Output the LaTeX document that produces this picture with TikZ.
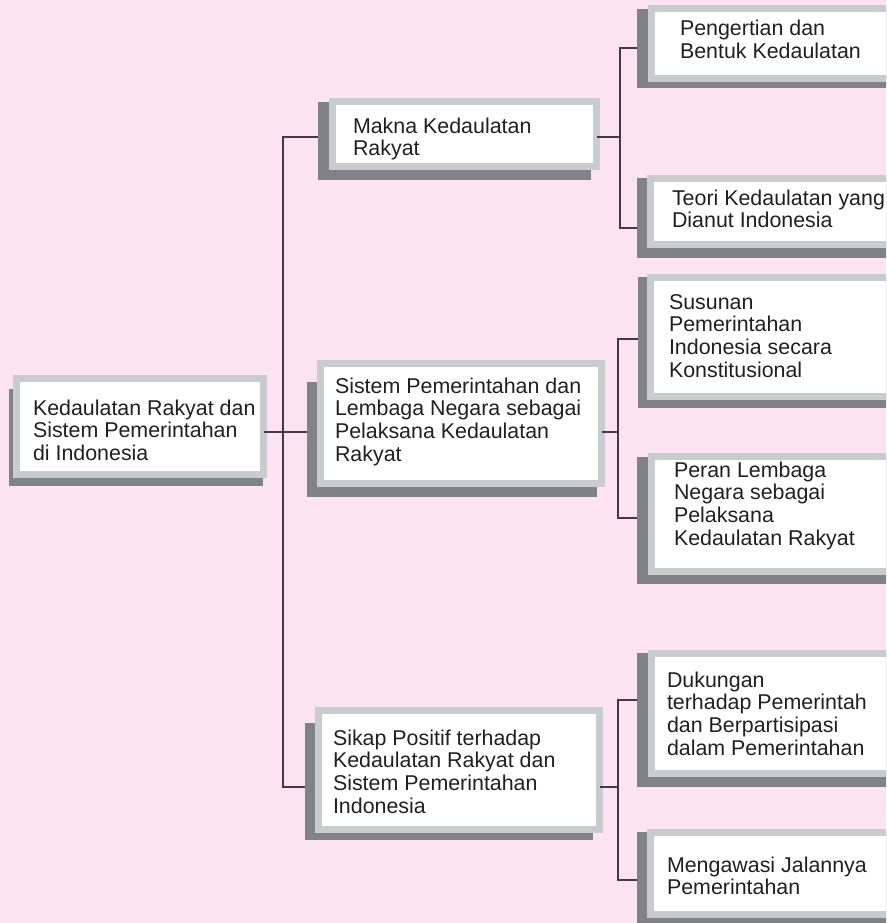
\documentclass[tikz,border=0pt]{standalone}
\usepackage{fontspec}
\setmainfont{Liberation Sans}
\usetikzlibrary{fit}
\definecolor{bgpink}{RGB}{251,228,240}
\definecolor{bordergray}{RGB}{201,204,207}
\definecolor{shadegray}{RGB}{128,130,133}
\definecolor{linecol}{RGB}{70,55,68}
\definecolor{txtcol}{RGB}{35,31,32}
\tikzset{
  shadowbox/.style={fill=shadegray, inner sep=0pt, outer sep=0pt},
  mainbox/.style={fill=white, draw=bordergray, line width=7pt, inner sep=0pt, outer sep=0pt},
  txt/.style={anchor=base west, inner sep=0pt, outer sep=0pt, text=txtcol,
    font=\fontsize{21.4pt}{22.9pt}\selectfont},
  conn/.style={draw=linecol, line width=1.3pt}
}
\newcommand\kotak[9]{%
  \node[shadowbox, fit={(#6,#7)(#8,#9)}] (#1-s) {};
  \node[mainbox, fit={({#2+3.5},{#3+3.5})({#4-3.5},{#5-3.5})}] (#1) {};
}
\newcommand\teks[4]{%
  \node[txt] (#1-t) at (#2,#3) {\parbox[t]{320pt}{\raggedright #4}};
}
\begin{document}
\begin{tikzpicture}[x=1pt,y=-1pt]
\useasboundingbox (0,0) rectangle (886,923);
\clip (0,0) rectangle (886,923);
\fill[bgpink] (0,0) rectangle (886,923);

% junction coordinates
\coordinate (t0) at (283,137);
\coordinate (t1) at (283,432);
\coordinate (t2) at (283,787);
\coordinate (u0) at (620,137);
\coordinate (u1) at (620,48);
\coordinate (u2) at (620,228);
\coordinate (v0) at (618,432);
\coordinate (v1) at (618,339);
\coordinate (v2) at (618,518);
\coordinate (w0) at (618,787);
\coordinate (w1) at (618,700);
\coordinate (w2) at (618,880);

% boxes: name, gray x1,y1,x2,y2, shadow x1,y1,x2,y2
\kotak{root}{13}{375}{267}{478}{9}{389}{263}{486}
\kotak{makna}{329}{98}{600}{170}{318}{102}{591}{180}
\kotak{sistem}{317}{360}{605}{487}{307}{382}{597}{497}
\kotak{sikap}{315}{707}{603}{833}{305}{723}{593}{840}
\kotak{peng}{648}{5}{910}{82}{637}{9}{910}{88}
\kotak{teori}{647}{175}{910}{248}{637}{178}{910}{258}
\kotak{susun}{647}{274}{910}{400}{638}{277}{910}{408}
\kotak{peran}{648}{453}{910}{575}{637}{457}{910}{584}
\kotak{dukung}{648}{650}{910}{777}{637}{653}{910}{787}
\kotak{awasi}{647}{829}{910}{918}{637}{832}{910}{935}

% connectors
\draw[conn] (root.east |- t1) -- (sistem-s.west |- t1);
\draw[conn] (makna-s.west |- t0) -- (t0) -- (t2) -- (sikap-s.west |- t2);
\draw[conn] (makna.east |- u0) -- (u0);
\draw[conn] (peng-s.west |- u1) -- (u1) -- (u2) -- (teori-s.west |- u2);
\draw[conn] (sistem.east |- v0) -- (v0);
\draw[conn] (susun-s.west |- v1) -- (v1) -- (v2) -- (peran-s.west |- v2);
\draw[conn] (sikap.east |- w0) -- (w0);
\draw[conn] (dukung-s.west |- w1) -- (w1) -- (w2) -- (awasi-s.west |- w2);

% texts
\teks{root}{33}{415}{Kedaulatan Rakyat dan\\Sistem Pemerintahan\\di Indonesia}
\teks{makna}{353}{133}{Makna Kedaulatan\\Rakyat}
\teks{sistem}{335}{393}{Sistem Pemerintahan dan\\Lembaga Negara sebagai\\Pelaksana Kedaulatan\\Rakyat}
\teks{sikap}{333}{745}{Sikap Positif terhadap\\Kedaulatan Rakyat dan\\Sistem Pemerintahan\\Indonesia}
\teks{peng}{680}{36}{Pengertian dan\\Bentuk Kedaulatan}
\teks{teori}{672}{205}{Teori Kedaulatan yang\\Dianut Indonesia}
\teks{susun}{669}{309}{Susunan\\Pemerintahan\\Indonesia secara\\Konstitusional}
\teks{peran}{674}{477}{Peran Lembaga\\Negara sebagai\\Pelaksana\\Kedaulatan Rakyat}
\teks{dukung}{667}{687}{Dukungan\\terhadap Pemerintah\\dan Berpartisipasi\\dalam Pemerintahan}
\teks{awasi}{667}{872}{Mengawasi Jalannya\\Pemerintahan}
\end{tikzpicture}
\end{document}
